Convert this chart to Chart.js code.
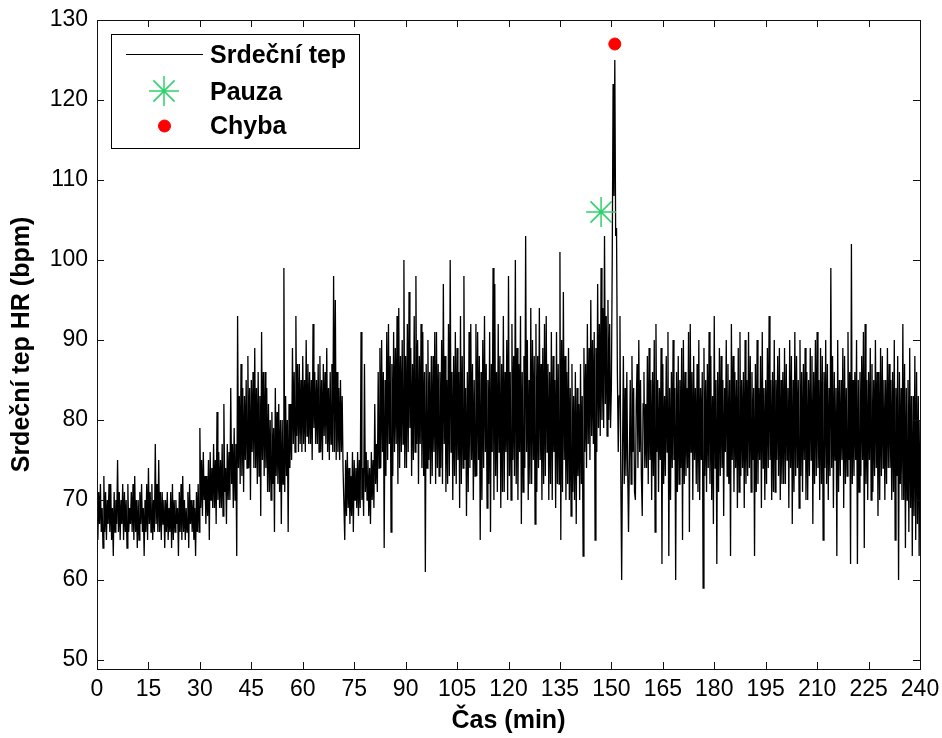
<!DOCTYPE html>
<html lang="cs">
<head>
<meta charset="utf-8">
<title>Srdeční tep</title>
<script src="https://cdn.jsdelivr.net/npm/chart.js@4.4.1/dist/chart.umd.min.js"></script>
<style>
  html, body { margin: 0; padding: 0; background: #fff; }
  #wrap { width: 942px; height: 738px; }
</style>
</head>
<body>
<div id="wrap"><canvas id="hrChart" width="942" height="738"></canvas></div>
<script>
// ===== Data =====
// srdeční tep, jeden vzorek každých STEP minut (0 .. 240 min), 40 vzorků na řádek = 10 min
const STEP = 0.25;
const HR = [
  70,65,71,67, 72,66,69,64, 73,66,71,65, 70,67,72,66, 72,65,69,63, 71,66,70,67, 75,66,71,65, 70,67,72,65, 71,66,70,64, 72,66,69,67,
  71,66,72,65, 73,66,70,64, 70,65,71,67, 72,66,69,63, 70,66,72,65, 74,67,71,66, 72,65,70,66, 77,67,72,66, 75,66,71,65, 71,67,70,64,
  70,66,71,65, 69,66,71,64, 72,65,70,66, 70,67,69,63, 71,66,72,65, 73,66,70,65, 69,66,71,64, 72,67,70,66, 70,65,69,63, 71,66,72,66,
  79,69,75,68, 76,70,73,67, 73,68,75,65, 76,70,74,69, 77,69,75,67, 81,70,76,69, 75,69,77,68, 82,71,74,67, 77,70,76,70, 84,72,77,69,
  79,70,77,63, 93,74,83,72, 87,73,84,71, 83,75,85,74, 88,74,84,70, 85,76,86,74, 89,74,84,72, 86,73,83,68, 91,75,86,73, 86,74,84,71,
  82,71,80,70, 81,72,79,66, 84,73,81,72, 82,71,80,67, 80,72,99,71, 83,73,80,66, 82,74,82,75, 89,77,86,76, 93,78,87,76, 87,77,85,76,
  88,77,85,76, 90,78,87,77, 86,77,85,75, 92,79,86,77, 85,77,87,76, 88,76,85,75, 87,78,86,77, 89,76,84,75, 86,77,87,76, 98,76,95,75,
  86,76,84,75, 85,76,83,74, 74,65,75,68, 76,69,74,67, 73,68,76,66, 75,70,74,69, 76,68,75,69, 91,70,74,68, 87,71,76,70, 75,68,74,67,
  76,70,75,69, 82,72,77,71, 86,74,89,74, 90,76,86,64, 85,73,91,75, 92,77,88,66, 87,73,91,76, 89,77,93,72, 94,74,88,76, 90,77,100,74,
  88,74,92,76, 96,79,89,73, 87,75,93,76, 98,77,90,72, 88,77,92,74, 91,73,86,61, 87,74,90,75, 86,72,88,73, 88,76,91,72, 91,74,87,73,
  86,74,90,72, 97,77,88,71, 85,72,92,73, 100,76,86,70, 88,73,91,72, 89,75,86,69, 93,72,88,74, 98,75,84,68, 86,71,91,74, 92,75,87,70,
  85,73,92,73, 91,75,88,65, 86,70,90,74, 93,76,87,69, 85,72,91,66, 87,76,99,70, 97,73,86,71, 92,76,88,69, 87,71,93,71, 86,76,90,70,
  98,73,86,70, 92,75,88,73, 100,72,89,70, 87,76,93,67, 86,71,88,74, 103,76,90,70, 85,72,94,72, 90,75,88,67, 92,71,88,74, 94,75,87,70,
  89,72,92,73, 93,76,87,70, 86,72,91,70, 88,76,85,69, 91,72,87,72, 101,65,90,71, 96,75,88,70, 86,72,89,70, 84,68,87,71, 83,70,86,67,
  84,73,82,70, 87,72,83,63, 89,76,87,74, 92,77,89,75, 95,78,90,77, 91,65,89,76, 97,79,92,78, 99,80,94,79, 103,82,93,78, 95,80,92,79,
  84,100,122,108, 125,103,104,86, 76,83,93,73, 60,76,88,72, 84,73,86,74, 66,75,85,72, 88,76,84,71, 70,82,87,74, 90,76,85,73, 68,82,86,74,
  82,74,88,72, 89,75,85,70, 86,73,90,66, 92,76,85,71, 84,75,89,62, 87,72,83,73, 88,76,91,63, 84,70,86,74, 90,75,84,60, 86,71,88,72,
  85,74,89,65, 90,72,86,73, 84,74,91,66, 92,76,86,70, 88,75,84,72, 87,71,90,70, 84,75,86,59, 89,73,85,71, 87,74,91,72, 88,70,83,67,
  93,74,85,62, 86,71,89,73, 88,74,85,68, 84,76,90,73, 87,72,85,63, 92,75,88,71, 86,74,85,69, 89,71,91,73, 85,74,86,69, 90,72,85,73,
  91,74,88,71, 86,75,84,63, 87,71,90,72, 84,75,88,69, 91,74,84,70, 85,72,89,74, 93,75,85,70, 86,71,90,71, 85,75,88,73, 89,70,85,72,
  86,72,89,72, 87,75,84,69, 90,74,88,67, 85,71,91,73, 88,74,85,69, 90,73,86,71, 87,75,89,70, 86,70,85,73, 89,75,88,67, 86,72,90,73,
  91,74,85,70, 89,72,88,65, 86,74,90,72, 87,70,84,73, 99,74,88,69, 86,75,84,63, 90,71,85,73, 85,75,89,69, 88,72,84,73, 91,75,86,62,
  102,72,85,73, 86,75,90,62, 85,71,86,73, 88,75,91,64, 92,72,85,70, 86,75,89,70, 87,71,85,73, 90,74,86,68, 86,70,89,73, 88,74,85,70,
  85,72,89,74, 87,74,85,70, 86,71,90,65, 84,73,88,60, 86,72,84,70, 92,70,87,64, 84,70,85,66, 89,69,83,63, 83,68,88,65, 86,67,83,63,
  80
];

// Pauza a chyba (min, bpm)
const PAUSE_T = [147];
const PAUSE_HR = [106];
const ERROR_T = [151];
const ERROR_HR = [127];

// Osy
const X_TICKS = [0, 15, 30, 45, 60, 75, 90, 105, 120, 135, 150, 165, 180, 195, 210, 225, 240];
const Y_TICKS = [50, 60, 70, 80, 90, 100, 110, 120, 130];
const X_MIN = 0, X_MAX = 240;
const Y_MIN = 48.875, Y_MAX = 130;

const LABELS = ['Srdeční tep', 'Pauza', 'Chyba'];

// ===== Barvy a písma =====
const PAUSE_COLOR = '#2fd16a';
const ERROR_COLOR = '#ff0000';
const FONT = 'Liberation Sans, Arial, sans-serif';
const tickFont = { family: FONT, size: 23 };
const labelFont = { family: FONT, size: 25, weight: 'bold' };

const hrPoints = HR.map((v, i) => ({ x: i * STEP, y: v }));
const pausePoints = PAUSE_T.map((t, i) => ({ x: t, y: PAUSE_HR[i] }));
const errorPoints = ERROR_T.map((t, i) => ({ x: t, y: ERROR_HR[i] }));

// Rámeček, ticky dovnitř (jako v MATLABu) a legenda
const matlabFrame = {
  id: 'matlabFrame',
  afterDatasetsDraw(chart) {
    const { ctx, chartArea: a, scales: { x, y } } = chart;
    const tick = 7;
    ctx.save();
    ctx.strokeStyle = '#111';
    ctx.lineWidth = 1;
    ctx.beginPath();
    x.ticks.forEach(t => {
      const px = Math.round(x.getPixelForValue(t.value)) + 0.5;
      ctx.moveTo(px, a.bottom); ctx.lineTo(px, a.bottom - tick);
      ctx.moveTo(px, a.top); ctx.lineTo(px, a.top + tick);
    });
    y.ticks.forEach(t => {
      const py = Math.round(y.getPixelForValue(t.value)) + 0.5;
      ctx.moveTo(a.left, py); ctx.lineTo(a.left + tick, py);
      ctx.moveTo(a.right, py); ctx.lineTo(a.right - tick, py);
    });
    ctx.stroke();
    ctx.strokeRect(Math.round(a.left) + 0.5, Math.round(a.top) + 0.5,
      Math.round(a.right - a.left), Math.round(a.bottom - a.top));

    // legenda
    const lx = 111, ly = 34, lw = 248, lh = 114;
    ctx.fillStyle = '#fff';
    ctx.fillRect(lx, ly, lw, lh);
    ctx.strokeStyle = '#000';
    ctx.strokeRect(lx + 0.5, ly + 0.5, lw, lh);

    ctx.beginPath();
    ctx.moveTo(126, 54.5);
    ctx.lineTo(203, 54.5);
    ctx.stroke();

    ctx.strokeStyle = PAUSE_COLOR;
    ctx.lineWidth = 1.5;
    Chart.helpers.drawPoint(ctx, { pointStyle: 'star', radius: 15, rotation: 0, borderWidth: 1.5 }, 164, 91);

    ctx.fillStyle = ERROR_COLOR;
    ctx.strokeStyle = ERROR_COLOR;
    ctx.lineWidth = 1;
    Chart.helpers.drawPoint(ctx, { pointStyle: 'circle', radius: 6, rotation: 0, borderWidth: 1 }, 164.5, 126);

    ctx.fillStyle = '#000';
    ctx.font = 'bold 25px ' + FONT;
    ctx.textBaseline = 'middle';
    ctx.textAlign = 'left';
    ctx.fillText(LABELS[0], 210, 56);
    ctx.fillText(LABELS[1], 210, 93);
    ctx.fillText(LABELS[2], 210, 127);
    ctx.restore();
  }
};

const ctx = document.getElementById('hrChart').getContext('2d');
new Chart(ctx, {
  type: 'line',
  data: {
    datasets: [
      {
        label: LABELS[0],
        data: hrPoints,
        borderColor: '#000',
        borderWidth: 1.3,
        pointRadius: 0,
        tension: 0,
        fill: false,
        order: 3
      },
      {
        label: LABELS[1],
        data: pausePoints,
        showLine: false,
        pointStyle: 'star',
        pointRadius: 15,
        borderColor: PAUSE_COLOR,
        backgroundColor: PAUSE_COLOR,
        pointBorderWidth: 1.5,
        order: 2
      },
      {
        label: LABELS[2],
        data: errorPoints,
        showLine: false,
        pointStyle: 'circle',
        pointRadius: 6,
        borderColor: ERROR_COLOR,
        backgroundColor: ERROR_COLOR,
        order: 1
      }
    ]
  },
  options: {
    responsive: false,
    animation: false,
    events: [],
    layout: { padding: { left: 0, right: 22, top: 20, bottom: 0 } },
    plugins: {
      legend: { display: false },
      tooltip: { enabled: false }
    },
    scales: {
      x: {
        type: 'linear',
        min: X_MIN,
        max: X_MAX,
        afterBuildTicks: s => { s.ticks = X_TICKS.map(v => ({ value: v })); },
        afterFit: s => { s.height = 69; s.paddingLeft = 0; s.paddingRight = 0; },
        grid: { display: false, drawTicks: false },
        border: { display: false },
        ticks: { font: tickFont, color: '#000', padding: 7, maxRotation: 0, autoSkip: false },
        title: { display: true, text: 'Čas (min)', font: labelFont, color: '#000', padding: { top: 0, bottom: 2 } }
      },
      y: {
        type: 'linear',
        min: Y_MIN,
        max: Y_MAX,
        afterBuildTicks: s => { s.ticks = Y_TICKS.map(v => ({ value: v })); },
        afterFit: s => { s.width = 97; s.paddingTop = 0; s.paddingBottom = 0; },
        grid: { display: false, drawTicks: false },
        border: { display: false },
        ticks: { font: tickFont, color: '#000', padding: 9, autoSkip: false },
        title: { display: true, text: 'Srdeční tep HR (bpm)', font: labelFont, color: '#000', padding: { top: 7, bottom: 0 } }
      }
    }
  },
  plugins: [matlabFrame]
});
</script>
</body>
</html>
